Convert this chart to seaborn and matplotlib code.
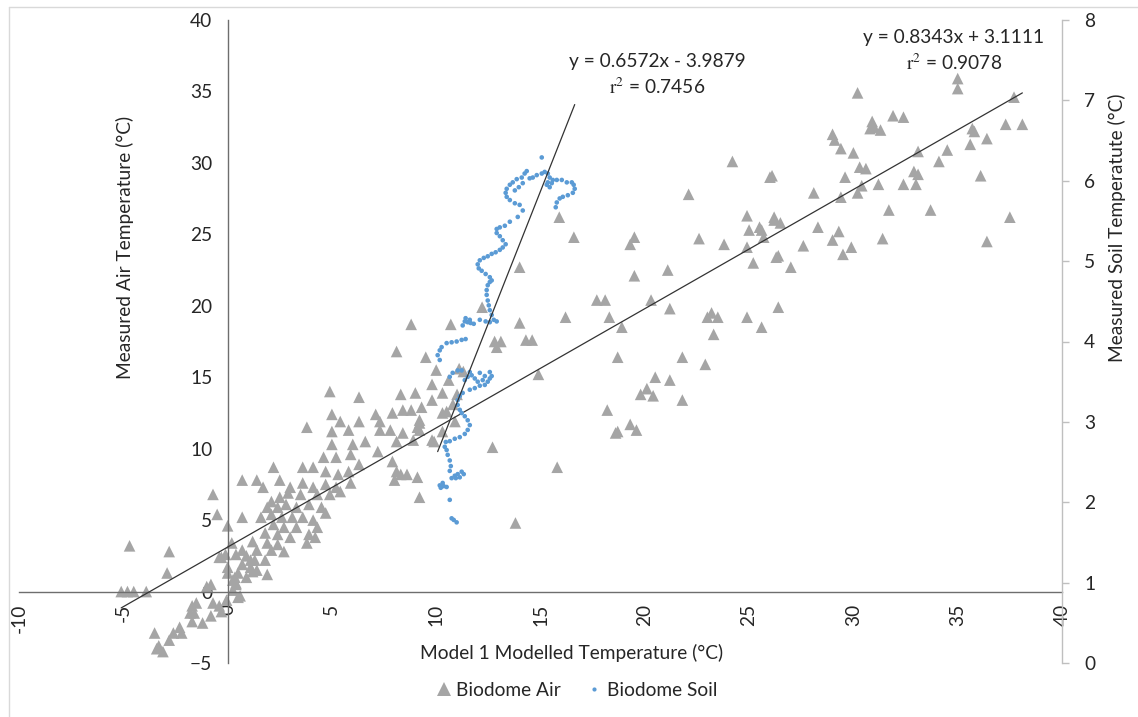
import matplotlib
matplotlib.use("Agg")
import matplotlib.pyplot as plt
import seaborn as sns
import pandas as pd
import numpy as np
from matplotlib.lines import Line2D

sns.set_theme(style="white")
plt.rcParams['font.family'] = ['Lato', 'DejaVu Sans']
plt.rcParams['mathtext.fontset'] = 'stix'

# ---------------- data ----------------
air_x = [
    -5.1, -4.8, -4.5, -3.9, -4.7, -2.8, -2.9, -3.5, -3.3, -3.4, -3.1, -2.8, -2.6, -2.3, -2.2, -1.8, -1.7, -1.5, -1.6,
    -1.7, -1.2, -0.8, -1.0, -0.8, -0.7, -0.4, -0.3, -0.05, 0.25, 0.4, 0.35, 0.5, 0.0, -0.7, -0.5, 0.0, 0.7, 0.7, -0.3,
    0.0, 0.2, 0.4, 0.7, 1.1, 1.4, 1.7, 2.2, 2.5, 1.9, 1.2, 0.5, 0.4, 0.6, -0.1, -0.4, 0.25,
    4.9, 6.3, 8.3, 9.0, 9.8, 10.3, 9.8, 8.4, 8.8, 9.3, 7.9, 7.1, 7.3, 6.3, 5.0, 5.4, 3.8, 5.0, 5.8, 7.3,
    7.8, 8.4, 9.2, 9.2, 9.8, 10.3, 8.1, 8.9, 5.0, 6.0, 6.6, 5.9, 7.2, 4.6, 5.2, 6.3, 7.9, 3.6, 4.1, 4.7,
    5.3, 5.8, 8.1, 8.3, 8.6, 9.1, 8.0, 9.2, 3.0, 3.6, 4.1, 4.7, 5.2, 5.9, 2.9, 3.5, 2.5, 2.1, 4.3, 4.9,
    5.4, 1.9, 2.4, 2.8, 3.3, 3.9, 4.5, 1.6, 2.1, 2.6, 3.1, 3.6, 4.1, 4.7, 2.2, 2.7, 3.3, 4.3, 1.8, 2.4,
    3.0, 3.9, 4.2, 3.8, 1.2, 1.9, 2.4, 1.4, 2.1, 2.7, 0.9, 1.3, 1.8, 0.7, 1.1, 1.4, 0.9,
    8.8, 10.7, 12.2, 8.1, 9.5, 10.0, 11.3, 11.0, 10.8, 10.9, 9.2, 9.1, 10.3, 12.7, 9.9, 12.8, 12.9, 10.6, 11.1, 10.5,
    15.9, 16.6, 14.0, 14.0, 14.3, 14.6, 16.2, 17.7, 18.1, 18.3, 18.9, 18.7, 14.9, 18.2, 18.7, 15.8, 13.8, 13.1,
    24.2, 26.0, 22.1, 19.5, 19.3, 22.6, 23.8, 24.9, 25.0, 25.5, 26.2, 24.9, 25.7, 25.2, 26.3, 19.5, 21.1, 20.3, 21.2, 23.2,
    23.0, 23.5, 23.3, 24.9, 25.6, 26.4, 21.8, 22.9, 20.5, 21.2, 20.1, 19.8, 20.4, 21.8, 19.3, 19.6, 18.6,
    35.0, 35.0, 30.2, 37.7, 31.9, 32.4, 30.9, 31.0, 30.8, 31.3, 37.3, 38.1, 35.7, 35.8, 29.0, 29.1, 36.4, 29.4, 35.6, 30.0,
    33.1, 34.5, 34.1, 30.3, 30.6, 32.9, 33.1, 26.1, 29.6, 36.1, 30.4, 31.2, 32.4, 33.0, 28.1, 30.2, 29.4, 31.7, 33.7, 37.5,
    26.2, 26.5, 25.6, 28.3, 29.3, 29.0, 31.4, 36.4, 27.6, 29.9, 29.5, 26.4, 27.0,
]
air_y = [
    0.0, 0.0, 0.0, 0.0, 3.2, 2.8, 1.3, -2.9, -3.8, -4.0, -4.2, -3.4, -2.9, -2.5, -2.9, -1.5, -1.0, -0.8, -1.5,
    -2.1, -2.2, -1.7, 0.35, 0.5, -0.8, -1.0, -1.4, -0.6, 0.1, 0.5, 1.0, -0.4, 1.3, 6.8, 5.4, 4.6, 7.8, 5.2, 2.4,
    1.7, 3.4, 2.6, 2.9, 2.2, 7.8, 7.3, 8.7, 7.8, 1.2, 1.4, 1.3, 0.6, -0.3, 2.6, 2.4, 0.8,
    14.0, 13.6, 13.8, 13.9, 14.5, 13.9, 13.4, 12.7, 12.7, 12.9, 12.5, 12.4, 11.9, 11.9, 12.4, 11.9, 11.5, 11.2, 11.3, 11.3,
    11.3, 11.1, 11.8, 11.3, 10.6, 12.5, 10.5, 10.6, 10.3, 10.3, 10.5, 9.6, 9.8, 9.4, 9.4, 8.9, 9.1, 8.7, 8.7, 8.4,
    8.2, 8.4, 8.4, 8.2, 8.2, 8.0, 7.8, 6.6, 7.3, 7.6, 7.3, 7.5, 7.3, 7.6, 6.9, 6.8, 6.6, 6.3, 6.8, 6.8,
    7.0, 5.9, 5.9, 6.1, 5.9, 6.1, 5.9, 5.2, 5.4, 5.2, 5.2, 5.2, 5.0, 5.5, 4.7, 4.5, 4.5, 4.5, 4.1, 4.0,
    3.8, 4.0, 3.8, 3.4, 3.5, 3.4, 3.3, 2.9, 2.9, 2.8, 2.5, 2.2, 2.2, 1.9, 1.7, 1.5, 1.0,
    18.7, 18.7, 19.9, 16.8, 16.4, 15.5, 15.4, 13.8, 13.1, 11.9, 12.0, 11.5, 11.2, 10.1, 10.5, 17.5, 17.1, 14.8, 15.6, 12.6,
    26.2, 24.8, 22.7, 18.8, 17.6, 17.6, 19.2, 20.4, 20.4, 19.2, 18.5, 16.4, 15.2, 12.7, 11.2, 8.7, 4.8, 17.5,
    30.1, 29.0, 27.8, 24.8, 24.3, 24.7, 24.3, 26.3, 25.3, 25.5, 26.2, 24.1, 24.8, 23.0, 23.4, 22.1, 22.5, 20.4, 19.8, 19.5,
    19.2, 19.2, 18.0, 19.2, 18.5, 19.9, 16.4, 15.9, 15.0, 14.8, 14.2, 13.8, 13.7, 13.4, 11.7, 11.3, 11.1,
    35.9, 35.2, 34.9, 34.6, 33.3, 33.2, 32.9, 32.5, 32.4, 32.3, 32.7, 32.7, 32.4, 32.2, 32.0, 31.6, 31.7, 31.0, 31.3, 30.7,
    30.8, 30.9, 30.1, 29.7, 29.6, 29.4, 29.2, 29.1, 29.0, 29.1, 28.4, 28.5, 28.5, 28.5, 27.9, 27.9, 27.6, 26.7, 26.7, 26.2,
    26.0, 25.8, 25.3, 25.5, 25.2, 24.6, 24.7, 24.5, 24.2, 24.1, 23.6, 23.5, 22.7,
]

soil_x = [
    10.98, 10.84, 10.74, 10.65, 10.22, 10.36, 10.50, 10.17, 10.31, 10.74,
    10.89, 11.03, 11.22, 11.32, 11.13, 10.94, 10.65, 10.70, 10.65, 10.55,
    10.50, 10.41, 10.46, 10.65, 10.89, 11.13, 11.37, 11.51, 11.61, 11.51,
    11.37, 11.22, 11.13, 11.03, 11.03, 11.13, 11.27,
    11.61, 11.85, 12.09, 12.33, 12.47, 12.57, 12.33, 12.23, 11.99, 11.85,
    11.70, 11.51, 11.37, 11.61, 12.09, 12.66, 12.57,
    11.22, 11.03, 10.79, 10.65, 10.17, 10.07, 10.17, 10.26, 10.50, 10.74, 10.98, 11.22, 11.41,
    11.27, 11.37, 11.51, 11.65, 11.80, 11.61, 11.41, 12.09, 12.37, 12.57, 12.76, 12.90,
    12.66, 12.57, 12.52, 12.47, 12.42, 12.42, 12.47, 12.57, 12.66,
    12.57, 12.37, 12.18, 12.04, 11.99, 12.09, 12.28, 12.47, 12.66, 12.85, 13.05, 13.19, 13.33,
    13.19, 13.05, 12.90, 12.90, 13.05, 13.29, 13.53, 13.91, 14.15, 14.00,
    13.77, 13.53, 13.38, 13.33, 13.38, 13.53, 13.67, 13.86, 14.10, 14.24, 14.34,
    14.48, 14.63, 14.82, 15.06, 15.20, 15.35, 15.44, 15.35, 15.30, 15.44,
    15.54, 15.59, 15.78, 16.02, 16.26, 16.50, 16.59, 16.64, 16.55, 16.31,
    16.07, 15.92, 15.78, 15.73,
    13.77, 13.96, 14.15, 15.06,
]
soil_y = [
    1.75, 1.78, 1.80, 2.03, 2.18, 2.20, 2.19, 2.21, 2.24, 2.30,
    2.33, 2.35, 2.38, 2.35, 2.31, 2.30, 2.39, 2.45, 2.52, 2.59,
    2.65, 2.69, 2.75, 2.76, 2.79, 2.81, 2.85, 2.90, 2.96, 3.02,
    3.07, 3.11, 3.15, 3.21, 3.27, 3.32, 3.36,
    3.40, 3.42, 3.45, 3.46, 3.50, 3.54, 3.57, 3.52, 3.50, 3.54,
    3.58, 3.56, 3.52, 3.62, 3.61, 3.57, 3.62,
    3.64, 3.64, 3.61, 3.56, 3.77, 3.83, 3.89, 3.93, 3.98, 3.99, 4.00, 4.02, 4.03,
    4.20, 4.25, 4.24, 4.23, 4.22, 4.27, 4.29, 4.27, 4.25, 4.24, 4.27, 4.25,
    4.33, 4.39, 4.45, 4.51, 4.58, 4.64, 4.70, 4.74, 4.76,
    4.80, 4.84, 4.88, 4.91, 4.96, 5.01, 5.04, 5.06, 5.09, 5.11, 5.14, 5.17, 5.21,
    5.26, 5.31, 5.35, 5.40, 5.42, 5.44, 5.49, 5.55, 5.63, 5.70,
    5.72, 5.76, 5.80, 5.85, 5.90, 5.95, 5.98, 6.02, 6.04, 6.09, 6.12,
    6.03, 6.04, 6.07, 6.09, 6.11, 6.09, 6.04, 5.98, 5.95, 5.92,
    5.97, 6.01, 6.01, 6.01, 5.98, 5.98, 5.95, 5.90, 5.85, 5.82,
    5.80, 5.78, 5.73, 5.67,
    5.88, 5.92, 5.97, 6.29,
]

air_slope, air_intercept, air_r2 = 0.8343, 3.1111, 0.9078
soil_slope, soil_intercept, soil_r2 = 0.6572, -3.9879, 0.7456

x_ticks = list(range(-10, 41, 5))
y_ticks = list(range(-5, 41, 5))
y2_ticks = list(range(0, 9, 1))

series_names = ["Biodome Air", "Biodome Soil"]
x_title = "Model 1 Modelled Temperature (\u00b0C)"
y_title = "Measured Air Temperature (\u00b0C)"
y2_title = "Measured Soil Temperatute (\u00b0C)"

# ---------------- figure ----------------
W, H = 1138, 717
fig = plt.figure(figsize=(W / 100, H / 100), dpi=100)
fig.patch.set_facecolor("white")

L, R, T, B = 19, 1062, 20, 663
ax = fig.add_axes([L / W, 1 - B / H, (R - L) / W, (B - T) / H])
ax.set_facecolor("none")
ax2 = ax.twinx()

AIR_C = "#a5a5a5"
SOIL_C = "#5b9bd5"
TXT = "#262626"
FS = 13.8

air_df = pd.DataFrame({"x": air_x, "y": air_y})
soil_df = pd.DataFrame({"x": soil_x, "y": soil_y})

sns.scatterplot(data=air_df, x="x", y="y", ax=ax, marker="^", s=70, color=AIR_C,
                edgecolor="none", linewidth=0, legend=False, zorder=2)
xa = np.array([min(air_x), max(air_x)])
ax.plot(xa, air_slope * xa + air_intercept, color="#333333", lw=0.9, zorder=3)

sns.scatterplot(data=soil_df, x="x", y="y", ax=ax2, marker="o", s=11, color=SOIL_C,
                edgecolor="none", linewidth=0, legend=False, zorder=2)
xs = np.array([min(soil_x), max(soil_x)])
ax2.plot(xs, soil_slope * xs + soil_intercept, color="#333333", lw=0.9, zorder=3)

ax.set_xlim(-10, 40)
ax.set_ylim(-5, 40)
ax2.set_ylim(0, 8)

# primary axes crossing at zero
ax.spines["left"].set_position(("data", 0))
ax.spines["bottom"].set_position(("data", 0))
for s in ["top", "right"]:
    ax.spines[s].set_visible(False)
for s in ["left", "bottom"]:
    ax.spines[s].set_color("#6e6e6e")
    ax.spines[s].set_linewidth(1.0)
ax.set_xticks(x_ticks)
ax.set_yticks(y_ticks)
ax.set_xticklabels([str(v) for v in x_ticks], rotation=90)
ax.tick_params(axis="x", length=0, pad=9, labelsize=FS, labelcolor=TXT)
ax.tick_params(axis="y", length=0, pad=11, labelsize=FS, labelcolor=TXT)
ax.set_xlabel("")
ax.set_ylabel("")
ax.grid(False)

for s in ["left", "top", "bottom"]:
    ax2.spines[s].set_visible(False)
ax2.spines["right"].set_color("#bfbfbf")
ax2.spines["right"].set_linewidth(1.0)
ax2.set_yticks(y2_ticks)
ax2.tick_params(axis="y", direction="out", length=5, width=1, color="#bfbfbf",
                pad=11, labelsize=FS, labelcolor=TXT)
ax2.set_ylabel("")
ax2.grid(False)

# axis titles
fig.text(125 / W, 1 - 247 / H, y_title, rotation=90, ha="center", va="center",
         fontsize=FS, color=TXT)
fig.text(1117 / W, 1 - 228 / H, y2_title, rotation=90, ha="center", va="center",
         fontsize=FS, color=TXT)
fig.text(572 / W, 1 - 653 / H, x_title, ha="center", va="center", fontsize=FS, color=TXT)

# trendline equations
fig.text(657 / W, 1 - 62 / H, f"y = {soil_slope:.4f}x - {abs(soil_intercept):.4f}",
         ha="center", va="center", fontsize=FS, color=TXT)
fig.text(657 / W, 1 - 87 / H, r"$\mathrm{r}^{2}$" + f" = {soil_r2:.4f}",
         ha="center", va="center", fontsize=FS, color=TXT)
fig.text(954 / W, 1 - 38 / H, f"y = {air_slope:.4f}x + {air_intercept:.4f}",
         ha="center", va="center", fontsize=FS, color=TXT)
fig.text(954 / W, 1 - 63 / H, r"$\mathrm{r}^{2}$" + f" = {air_r2:.4f}",
         ha="center", va="center", fontsize=FS, color=TXT)

# legend
handles = [
    Line2D([], [], marker="^", linestyle="none", markersize=10, color=AIR_C, markeredgewidth=0),
    Line2D([], [], marker="o", linestyle="none", markersize=3, color=SOIL_C, markeredgewidth=0),
]
fig.legend(handles, series_names, loc="center", bbox_to_anchor=(576 / W, 1 - 690 / H),
           ncol=2, frameon=False, fontsize=FS, handletextpad=0.2, columnspacing=1.3,
           handlelength=0.9, labelcolor=TXT)

# chart-area border (left and top edges visible)
fig.add_artist(Line2D([9 / W, 9 / W], [0, 1 - 7 / H], transform=fig.transFigure,
                      color="#d9d9d9", lw=1))
fig.add_artist(Line2D([9 / W, 1], [1 - 7 / H, 1 - 7 / H], transform=fig.transFigure,
                      color="#d9d9d9", lw=1))

fig.savefig("out.png", dpi=100, facecolor="white")
